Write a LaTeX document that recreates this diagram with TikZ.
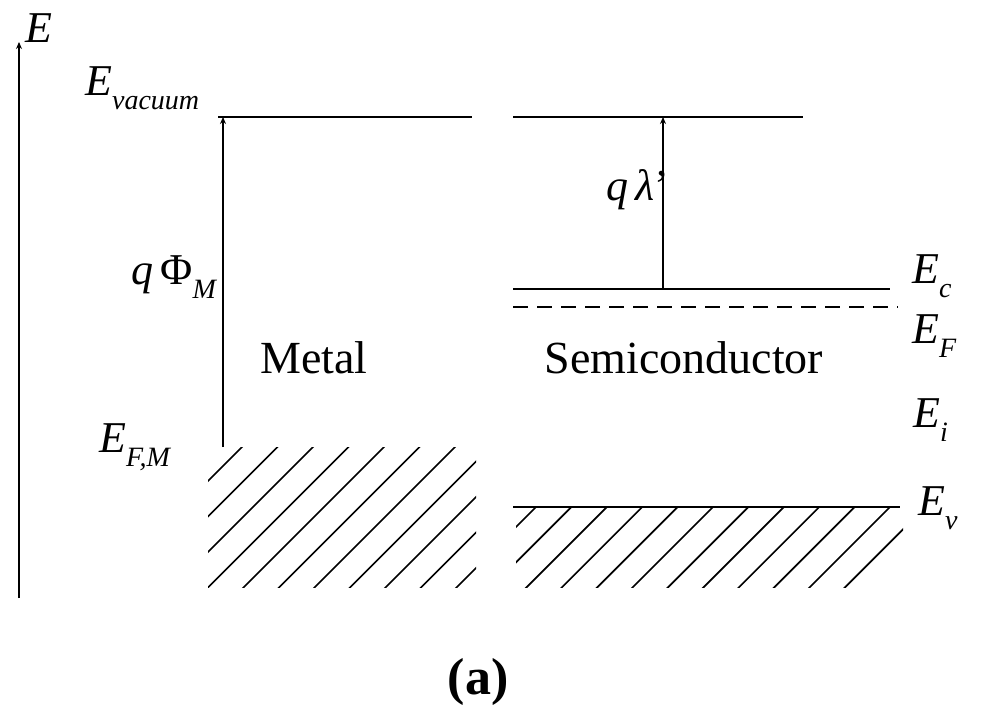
\documentclass[tikz,border=0pt]{standalone}
\usepackage{fontspec}
\setmainfont{Liberation Serif}
\usetikzlibrary{arrows.meta}
\newcommand\lsub[1]{\raisebox{-0.33em}{\fontsize{28}{30}\selectfont\itshape #1}}
\begin{document}
\begin{tikzpicture}[x=1pt,y=-1pt,
  level/.style={line width=2.2pt},
  hatchline/.style={line width=1.7pt},
  arr/.style={line width=2.2pt,-{Stealth[length=7pt,width=6pt]}},
  lbl/.style={anchor=base west,inner sep=0pt,font=\fontsize{44}{50}\selectfont},
  word/.style={inner sep=0pt,font=\fontsize{46}{50}\selectfont}]
\useasboundingbox (0,0) rectangle (982,709);
% energy axis
\coordinate (axb) at (19,598);
\coordinate (axt) at (19,42);
\draw[arr] (axb) -- (axt);
\node[lbl] (Elab) at (25,43) {\textit{E}};
% metal
\coordinate (mvl) at (218,117);
\coordinate (mvr) at (472,117);
\draw[level] (mvl) -- (mvr);
\coordinate (mfm) at (223,447);
\coordinate (mvac) at (223,117);
\draw[arr] (mfm) -- (mvac);
\node[lbl] (Evac) at (85,95) {\textit{E}\lsub{vacuum}};
\node[lbl] (qphi) at (131,284) {\textit{q}\,Φ\lsub{M}};
\node[lbl] (EFM) at (99,452) {\textit{E}\lsub{F,M}};
\node[word] (metal) at (314,358) {Metal};
\begin{scope}
  \clip (208,447) rectangle (476,587);
  \foreach \k in {0,...,10} {
    \pgfmathsetmacro\c{689+35.5*\k}
    \draw[hatchline] (\c-600,600) -- (\c-430,430);
  }
\end{scope}
% semiconductor
\coordinate (svl) at (513,117);
\coordinate (svr) at (803,117);
\draw[level] (svl) -- (svr);
\coordinate (scl) at (513,289);
\coordinate (scr) at (890,289);
\draw[level] (scl) -- (scr);
\coordinate (sfl) at (513,307);
\coordinate (sfr) at (898,307);
\draw[level,dash pattern=on 15pt off 9pt] (sfl) -- (sfr);
\coordinate (svbl) at (513,507);
\coordinate (svbr) at (900,507);
\draw[level] (svbl) -- (svbr);
\coordinate (schi) at (663,289);
\coordinate (svac) at (663,117);
\draw[arr] (schi) -- (svac);
\node[lbl] (qchi) at (606,200) {\textit{q}\,\textit{λ}'};
\node[word] (semi) at (684,358) {Semiconductor};
\node[lbl] (Ec) at (912,283) {\textit{E}\lsub{c}};
\node[lbl] (EF) at (912,343) {\textit{E}\lsub{F}};
\node[lbl] (Ei) at (913,427) {\textit{E}\lsub{i}};
\node[lbl] (Ev) at (918,515) {\textit{E}\lsub{v}};
\begin{scope}
  \clip (516,508) rectangle (903,587);
  \foreach \k in {0,...,11} {
    \pgfmathsetmacro\c{1043+35.4*\k}
    \draw[hatchline] (\c-600,600) -- (\c-490,490);
  }
\end{scope}
\node[inner sep=0pt,font=\fontsize{52}{56}\selectfont\bfseries] (cap) at (478,682) {(a)};
\end{tikzpicture}
\end{document}
